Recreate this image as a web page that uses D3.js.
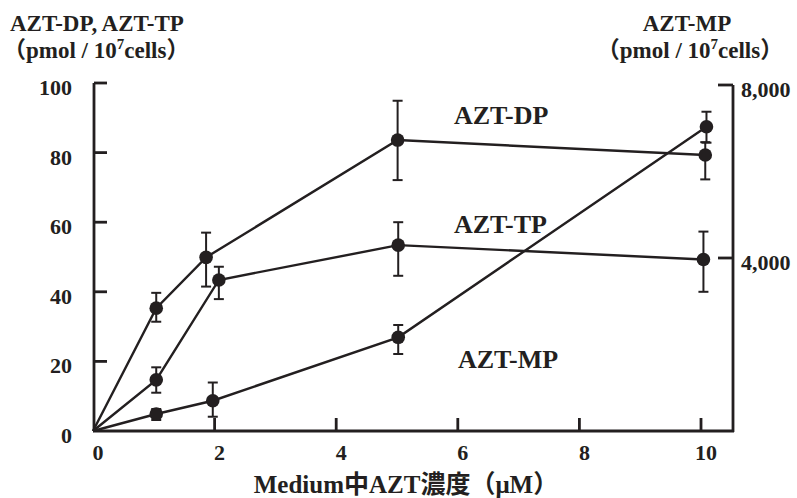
<!DOCTYPE html>
<html>
<head>
<meta charset="utf-8">
<script src="https://cdn.jsdelivr.net/npm/d3@7"></script>
<style>
  body { margin: 0; background: #fff; }
  text { font-family: "Liberation Serif", "Times New Roman", "Noto Sans CJK JP", serif; font-weight: bold; fill: #231f20; }
</style>
</head>
<body>
<svg id="chart" width="797" height="498"></svg>
<script>
// values
var xTicks = [0, 2, 4, 6, 8, 10];
var leftTicks = [0, 20, 40, 60, 80, 100];
var rightTicks = [4000, 8000];

var dpX  = [0, 1.04, 1.86, 5.01, 10.07];
var dpY  = [0, 35.3, 49.9, 83.6, 79.3];
var dpHi = [null, 39.7, 57.0, 94.9, 83.0];
var dpLo = [null, 31.4, 41.5, 72.1, 72.3];

var tpX  = [0, 1.04, 2.07, 5.02, 10.04];
var tpY  = [0, 14.7, 43.4, 53.4, 49.3];
var tpHi = [null, 18.3, 47.2, 60.0, 57.3];
var tpLo = [null, 11.0, 37.9, 44.6, 40.0];

var mpX  = [0, 1.04, 1.97, 5.02, 10.09];
var mpY  = [0, 393, 700, 2166, 7035];
var mpHi = [null, 509, 1121, 2451, 7382];
var mpLo = [null, 254, 330, 1780, 6666];

var ink = "#231f20";
var svg = d3.select("#chart");

var x = d3.scaleLinear().domain([0, 10]).range([93, 701]);
var yL = d3.scaleLinear().domain([0, 100]).range([431, 83]);
var yR = d3.scaleLinear().domain([0, 8000]).range([431, 85]);

// axes lines (drawn by hand, ticks pointing inward)
svg.append("line").attr("x1", 94).attr("x2", 94).attr("y1", yL(100)).attr("y2", 431)
  .style("stroke", ink).style("stroke-width", 2.8);
svg.append("line").attr("x1", 733).attr("x2", 733).attr("y1", yR(8000)).attr("y2", 432)
  .style("stroke", ink).style("stroke-width", 2.8);
svg.append("line").attr("x1", 93).attr("x2", 734).attr("y1", 431).attr("y2", 431)
  .style("stroke", ink).style("stroke-width", 2.8);

// left ticks
svg.selectAll(".ltick").data(leftTicks.filter(function(d){ return d > 0; })).enter().append("line")
  .attr("class", "ltick")
  .attr("x1", 94).attr("x2", 107)
  .attr("y1", function(d){ return yL(d); }).attr("y2", function(d){ return yL(d); })
  .style("stroke", ink).style("stroke-width", 2.8);
svg.selectAll(".llab").data(leftTicks).enter().append("text")
  .attr("class", "llab")
  .attr("x", 72).attr("y", function(d){ return yL(d) + 12; })
  .attr("text-anchor", "end").style("font-size", "22px")
  .text(function(d){ return d; });

// right ticks
svg.selectAll(".rtick").data(rightTicks).enter().append("line")
  .attr("class", "rtick")
  .attr("x1", 718).attr("x2", 733)
  .attr("y1", function(d){ return yR(d); }).attr("y2", function(d){ return yR(d); })
  .style("stroke", ink).style("stroke-width", 2.8);
svg.selectAll(".rlab").data(rightTicks).enter().append("text")
  .attr("class", "rlab")
  .attr("x", 741).attr("y", function(d){ return yR(d) + 12; })
  .style("font-size", "22px")
  .text(function(d){ return d3.format(",")(d); });

// x ticks
svg.selectAll(".xtick").data(xTicks.filter(function(d){ return d > 0; })).enter().append("line")
  .attr("class", "xtick")
  .attr("x1", function(d){ return x(d); }).attr("x2", function(d){ return x(d); })
  .attr("y1", 418).attr("y2", 431)
  .style("stroke", ink).style("stroke-width", 2.8);
svg.selectAll(".xlab").data(xTicks).enter().append("text")
  .attr("class", "xlab")
  .attr("x", function(d){ return x(d) + 5; }).attr("y", 460)
  .attr("text-anchor", "middle").style("font-size", "22px")
  .text(function(d){ return d; });

// series
var series = [
  {xs: dpX, ys: dpY, hi: dpHi, lo: dpLo, y: yL},
  {xs: tpX, ys: tpY, hi: tpHi, lo: tpLo, y: yL},
  {xs: mpX, ys: mpY, hi: mpHi, lo: mpLo, y: yR}
];

series.forEach(function(s) {
  var pts = s.xs.map(function(v, i){ return {x: v, y: s.ys[i], hi: s.hi[i], lo: s.lo[i]}; });
  var line = d3.line().x(function(d){ return x(d.x); }).y(function(d){ return s.y(d.y); });
  svg.append("path").datum(pts).attr("d", line)
    .style("fill", "none").style("stroke", ink).style("stroke-width", 2.4);

  var eb = pts.filter(function(d){ return d.hi != null; });
  var g = svg.append("g").style("stroke", ink).style("stroke-width", 2);
  g.selectAll(".ev").data(eb).enter().append("line")
    .attr("x1", function(d){ return x(d.x); }).attr("x2", function(d){ return x(d.x); })
    .attr("y1", function(d){ return s.y(d.hi); }).attr("y2", function(d){ return s.y(d.lo); });
  g.selectAll(".eh").data(eb).enter().append("line")
    .attr("x1", function(d){ return x(d.x) - 5; }).attr("x2", function(d){ return x(d.x) + 5; })
    .attr("y1", function(d){ return s.y(d.hi); }).attr("y2", function(d){ return s.y(d.hi); });
  g.selectAll(".el").data(eb).enter().append("line")
    .attr("x1", function(d){ return x(d.x) - 5; }).attr("x2", function(d){ return x(d.x) + 5; })
    .attr("y1", function(d){ return s.y(d.lo); }).attr("y2", function(d){ return s.y(d.lo); });

  svg.selectAll(null).data(eb).enter().append("circle")
    .attr("cx", function(d){ return x(d.x); }).attr("cy", function(d){ return s.y(d.y); })
    .attr("r", 6.8).style("fill", ink);
});

// in-plot labels
svg.append("text").attr("x", 454).attr("y", 124).style("font-size", "26px").text("AZT-DP");
svg.append("text").attr("x", 454).attr("y", 233).style("font-size", "26px").text("AZT-TP");
svg.append("text").attr("x", 458).attr("y", 368).style("font-size", "26px").text("AZT-MP");

// axis titles
svg.append("text").attr("x", 10).attr("y", 31).style("font-size", "23px").text("AZT-DP, AZT-TP");
function unitLabel(xp, anchor) {
  var t = svg.append("text").attr("x", xp).attr("y", 58).attr("text-anchor", anchor).style("font-size", "23px");
  t.append("tspan").text("（pmol / 10");
  t.append("tspan").attr("dy", -9).style("font-size", "15px").text("7");
  t.append("tspan").attr("dy", 9).text("cells）");
}
unitLabel(3, "start");
svg.append("text").attr("x", 687).attr("y", 31).attr("text-anchor", "middle").style("font-size", "23px").text("AZT-MP");
unitLabel(690, "middle");

svg.append("text").attr("x", 406).attr("y", 493).attr("text-anchor", "middle").style("font-size", "25px")
  .text("Medium中AZT濃度（μM）");
</script>
</body>
</html>
